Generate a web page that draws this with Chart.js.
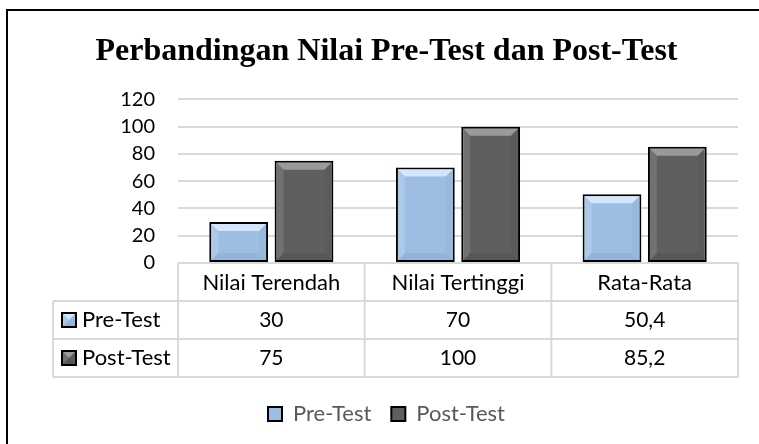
<!DOCTYPE html>
<html>
<head>
<meta charset="utf-8">
<script src="https://cdn.jsdelivr.net/npm/chart.js@4.4.0/dist/chart.umd.min.js"></script>
<style>
  html, body { margin: 0; padding: 0; background: #fff; }
  #frame { position: absolute; left: 6px; top: 9px; width: 780px; height: 480px; border: 2px solid #000; }
  #chart { position: absolute; left: 0; top: 0; }
</style>
</head>
<body>
<div id="frame"></div>
<canvas id="chart" width="759" height="444"></canvas>
<script>
const categories = ['Nilai Terendah', 'Nilai Tertinggi', 'Rata-Rata'];
const preTest = [30, 70, 50.4];
const postTest = [75, 100, 85.2];
const seriesNames = ['Pre-Test', 'Post-Test'];
const yTicks = [0, 20, 40, 60, 80, 100, 120];

const FONT = 'Lato';
const GRID = '#d9d9d9';

// comma decimals, like the source sheet
function fmt(v) {
    return String(v).replace('.', ',');
}

// bevel look of the office bars
function bevel(ctx, l, t, r, b, fill) {
    const d = Math.min(7, (r - l) / 2, (b - t) / 2);
    const light = fill === '#9dbde2' ? '#d3e6fb' : '#9a9a9a';
    const dark = fill === '#9dbde2' ? '#8eaed4' : '#525252';
    ctx.fillStyle = light;
    ctx.beginPath();
    ctx.moveTo(l, t); ctx.lineTo(r, t); ctx.lineTo(r - d, t + d); ctx.lineTo(l + d, t + d);
    ctx.closePath(); ctx.fill();
    ctx.globalAlpha = 0.6;
    ctx.fillStyle = dark;
    ctx.beginPath();
    ctx.moveTo(l, b); ctx.lineTo(r, b); ctx.lineTo(r - d, b - d); ctx.lineTo(l + d, b - d);
    ctx.closePath(); ctx.fill();
    ctx.globalAlpha = 0.3;
    ctx.fillStyle = light;
    ctx.beginPath();
    ctx.moveTo(l, t); ctx.lineTo(l + d, t + d); ctx.lineTo(l + d, b - d); ctx.lineTo(l, b);
    ctx.closePath(); ctx.fill();
    ctx.fillStyle = dark;
    ctx.beginPath();
    ctx.moveTo(r, t); ctx.lineTo(r - d, t + d); ctx.lineTo(r - d, b - d); ctx.lineTo(r, b);
    ctx.closePath(); ctx.fill();
    ctx.globalAlpha = 1;
}

const barBevel = {
    id: 'barBevel',
    afterDatasetsDraw(chart) {
        const ctx = chart.ctx;
        chart.data.datasets.forEach((ds, i) => {
            chart.getDatasetMeta(i).data.forEach(bar => {
                const l = bar.x - bar.width / 2 + 2;
                const r = bar.x + bar.width / 2 - 2;
                ctx.save();
                bevel(ctx, l, bar.y + 2, r, bar.base - 2, ds.backgroundColor);
                ctx.restore();
            });
        });
    }
};

// data table under the plot, Excel style
const dataTable = {
    id: 'dataTable',
    afterDraw(chart) {
        const ctx = chart.ctx;
        const x = chart.scales.x;
        const area = chart.chartArea;
        const top = area.bottom;
        const rowH = 38;
        const left = area.left - 125;
        const edges = [area.left];
        categories.forEach((c, i) => {
            edges.push(i < categories.length - 1 ? (x.getPixelForTick(i) + x.getPixelForTick(i + 1)) / 2 : area.right);
        });
        ctx.save();
        ctx.strokeStyle = GRID;
        ctx.lineWidth = 2;
        ctx.beginPath();
        // header row
        ctx.moveTo(area.left, top); ctx.lineTo(area.right, top);
        for (let r = 1; r <= 3; r++) {
            ctx.moveTo(left, top + rowH * r); ctx.lineTo(area.right, top + rowH * r);
        }
        edges.forEach(e => { ctx.moveTo(e, top); ctx.lineTo(e, top + rowH * 3); });
        ctx.moveTo(left, top + rowH); ctx.lineTo(left, top + rowH * 3);
        ctx.stroke();

        ctx.textBaseline = 'middle';
        chart.data.datasets.forEach((ds, i) => {
            const cy = top + rowH * (i + 1) + rowH / 2;
            // key square
            ctx.fillStyle = ds.backgroundColor;
            ctx.fillRect(left + 9, cy - 7, 14, 14);
            bevel(ctx, left + 10, cy - 6, left + 22, cy + 6, ds.backgroundColor);
            ctx.strokeStyle = '#000';
            ctx.lineWidth = 2;
            ctx.strokeRect(left + 9, cy - 7, 14, 14);
            ctx.fillStyle = '#000';
            ctx.textAlign = 'left';
            ctx.font = '22px ' + FONT;
            ctx.fillText(ds.label, left + 29, cy);
            ctx.textAlign = 'center';
            ctx.font = '21px ' + FONT;
            ds.data.forEach((v, j) => {
                ctx.fillText(fmt(v), x.getPixelForTick(j), cy);
            });
        });
        ctx.restore();
    }
};

new Chart(document.getElementById('chart'), {
    type: 'bar',
    data: {
        labels: categories,
        datasets: [
            {
                label: seriesNames[0],
                data: preTest,
                backgroundColor: '#9dbde2',
                borderColor: '#000',
                borderWidth: 2,
                borderSkipped: false
            },
            {
                label: seriesNames[1],
                data: postTest,
                backgroundColor: '#5f5f5f',
                borderColor: '#000',
                borderWidth: 2,
                borderSkipped: false
            }
        ]
    },
    options: {
        responsive: false,
        animation: false,
        layout: { padding: { left: 35, right: 21, top: 0, bottom: 9 } },
        datasets: { bar: { categoryPercentage: 0.7, barPercentage: 0.9 } },
        plugins: {
            title: {
                display: true,
                text: 'Perbandingan Nilai Pre-Test dan Post-Test',
                color: '#000',
                font: { family: 'Liberation Serif', size: 32, weight: 'bold', lineHeight: 1.2 },
                padding: { top: 33, bottom: 28 }
            },
            legend: {
                position: 'bottom',
                labels: {
                    color: '#595959',
                    font: { family: FONT, size: 22 },
                    boxWidth: 14,
                    boxHeight: 14,
                    padding: 20
                }
            },
            tooltip: { enabled: false }
        },
        scales: {
            y: {
                min: 0,
                max: 120,
                afterFit(scale) { scale.width = 143; },
                afterBuildTicks(scale) { scale.ticks = yTicks.map(v => ({ value: v })); },
                ticks: { color: '#000', font: { family: FONT, size: 20 }, padding: 23 },
                grid: { color: GRID, lineWidth: 2, drawTicks: false },
                border: { display: false }
            },
            x: {
                afterFit(scale) { scale.height = 120; },
                ticks: { color: '#000', font: { family: FONT, size: 22 }, padding: 7, maxRotation: 0 },
                grid: { display: false, drawTicks: false },
                border: { display: false }
            }
        }
    },
    plugins: [barBevel, dataTable]
});
</script>
</body>
</html>
